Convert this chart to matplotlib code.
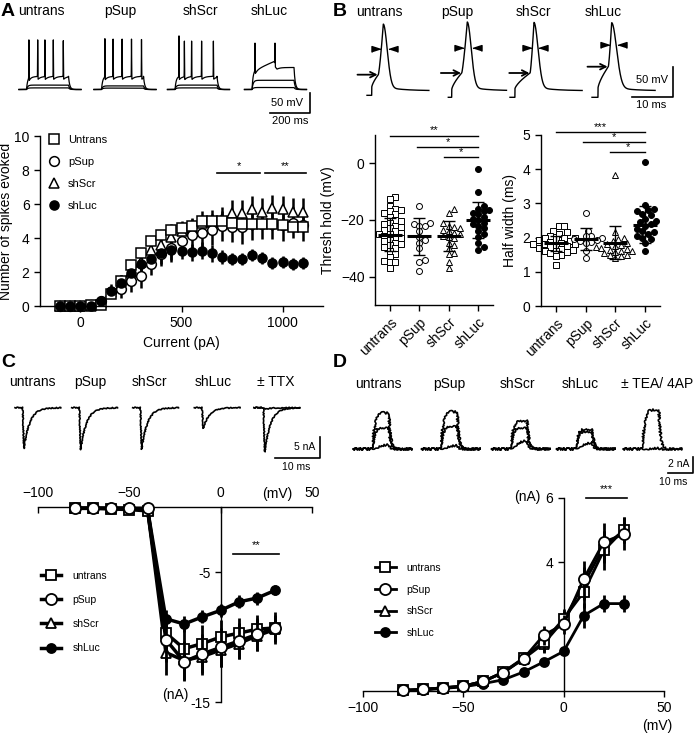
import numpy as np
import matplotlib.pyplot as plt
from matplotlib.transforms import offset_copy

plt.rcParams['font.family'] = ['Liberation Sans', 'DejaVu Sans']
plt.rcParams['font.size'] = 10
plt.rcParams['axes.linewidth'] = 1.0
plt.rcParams['xtick.major.width'] = 1.0
plt.rcParams['ytick.major.width'] = 1.0
plt.rcParams['xtick.major.size'] = 4
plt.rcParams['ytick.major.size'] = 4

# ─── Data ──────────────────────────────────────────────────────────────────────
groups = ["untrans", "pSup", "shScr", "shLuc"]
legend_a = ["Untrans", "pSup", "shScr", "shLuc"]

# A: spikes evoked vs current
current_pA = [-100, -50, 0, 50, 100, 150, 200, 250, 300, 350, 400, 450, 500,
              550, 600, 650, 700, 750, 800, 850, 900, 950, 1000, 1050, 1100]
spk_untrans = [0, 0, 0, 0.05, 0.06, 0.7, 1.5, 2.4, 3.1, 3.8, 4.2, 4.5, 4.6,
               4.7, 5.0, 5.0, 5.0, 4.9, 4.85, 4.8, 4.85, 4.8, 4.75, 4.65, 4.65]
spk_psup = [0, 0, 0, 0.05, 0.3, 0.8, 1.0, 1.45, 1.75, 2.5, 3.05, 3.4, 3.85,
            4.2, 4.3, 4.5, 4.7, 4.65, 4.65, 4.8, 4.85, 4.85, 4.75, 4.9, 4.75]
spk_shscr = [0, 0, 0, 0, 0.15, 0.8, 1.3, 2.0, 2.6, 3.3, 3.6, 4.05, 4.4,
             4.6, 4.9, 4.95, 5.1, 5.45, 5.45, 5.7, 5.55, 5.75, 5.7, 5.55, 5.55]
spk_shluc = [0, 0, 0, 0, 0.3, 0.9, 1.35, 1.95, 2.5, 2.75, 3.1, 3.3, 3.25,
             3.15, 3.25, 3.1, 2.9, 2.75, 2.75, 3.0, 2.8, 2.55, 2.6, 2.45, 2.55]
err_untrans = [0, 0, 0, 0.05, 0.1, 0.2, 0.3, 0.3, 0.3, 0.3, 0.3, 0.3, 0.3,
               0.3, 0.3, 0.3, 0.3, 0.3, 0.3, 0.3, 0.3, 0.3, 0.3, 0.3, 0.3]
err_psup = [0, 0, 0, 0.05, 0.2, 0.3, 0.5, 0.6, 0.7, 0.7, 0.7, 0.8, 0.8,
            0.9, 0.9, 0.9, 0.9, 0.9, 1.0, 0.9, 0.9, 0.9, 0.9, 0.9, 0.9]
err_shscr = [0, 0, 0, 0.05, 0.15, 0.3, 0.4, 0.5, 0.5, 0.6, 0.6, 0.6, 0.6,
             0.6, 0.7, 0.7, 0.7, 0.8, 0.8, 0.8, 0.8, 0.8, 0.8, 0.8, 0.8]
err_shluc = [0, 0, 0, 0.05, 0.3, 0.4, 0.5, 0.5, 0.6, 0.6, 0.6, 0.6, 0.5,
             0.5, 0.5, 0.5, 0.4, 0.35, 0.35, 0.35, 0.35, 0.35, 0.35, 0.35, 0.35]
sig_a_spans = [(675, 890), (915, 1115)]
sig_a_labels = ["*", "**"]
sig_a_level = 7.8

# B: threshold (mV) and half width (ms), individual cells
thr_untrans = [-12, -12.5, -15, -16, -16.5, -17, -17.5, -18, -19, -20, -20.5, -21,
               -21.5, -22, -22.5, -23, -23.5, -24, -24.5, -25, -25, -25.5, -26,
               -26.5, -27, -27.5, -28, -28.5, -29, -29.5, -30, -31, -32, -33,
               -34.5, -35, -35, -37]
thr_psup = [-15, -21, -21.5, -22, -22, -24, -26, -27, -28, -30, -34, -35, -38]
thr_shscr = [-16, -17.5, -21, -22, -22.5, -23, -23.5, -24, -24.5, -25, -25.5,
             -26, -26.5, -28, -29, -30, -31.5, -32, -35, -37]
thr_shluc = [-2, -10, -15, -16, -16.5, -17, -17.5, -18, -19, -19.5, -20, -21,
             -21.5, -22, -23, -24, -25, -26, -28, -29.5, -30.5]
thr_mean = [-25.2, -25.8, -25.6, -20.0]
thr_sd = [5.9, 6.6, 5.3, 6.5]
sig_thr = [(0, 3, 9.8, "**"), (0.93, 3, 5.9, "*"), (1.83, 3, 2.1, "*")]

hw_untrans = [2.33, 2.33, 2.2, 2.15, 2.1, 2.05, 2.0, 2.0, 1.98, 1.95, 1.92, 1.9,
              1.88, 1.85, 1.82, 1.8, 1.8, 1.78, 1.75, 1.72, 1.7, 1.68, 1.65,
              1.62, 1.6, 1.58, 1.55, 1.5, 1.45, 1.2]
hw_psup = [2.72, 2.2, 2.05, 2.05, 2.0, 1.95, 1.92, 1.9, 1.88, 1.85, 1.62, 1.4]
hw_shscr = [3.82, 2.15, 2.0, 1.95, 1.9, 1.85, 1.8, 1.78, 1.75, 1.72, 1.7, 1.68,
            1.65, 1.62, 1.6, 1.58, 1.55, 1.5, 1.48, 1.45, 1.4]
hw_shluc = [4.2, 2.95, 2.85, 2.8, 2.78, 2.7, 2.65, 2.55, 2.5, 2.45, 2.4, 2.35,
            2.25, 2.2, 2.15, 2.1, 2.05, 2.0, 1.95, 1.85, 1.6]
hw_mean = [1.83, 1.96, 1.85, 2.37]
hw_sd = [0.22, 0.32, 0.49, 0.54]
sig_hw = [(0, 3, 5.1, "***"), (0.91, 3, 4.8, "*"), (1.83, 3, 4.5, "*")]

# C: Na current IV (nA)
volt_mV = [-80, -70, -60, -50, -40, -30, -20, -10, 0, 10, 20, 30]
na_untrans = [-0.1, -0.1, -0.15, -0.2, -0.3, -9.7, -10.9, -10.5, -10.0, -9.7, -9.4, -9.3]
na_psup = [-0.1, -0.1, -0.1, -0.1, -0.1, -10.2, -11.9, -11.3, -10.8, -10.3, -9.8, -9.3]
na_shscr = [-0.1, -0.1, -0.1, -0.1, -0.2, -11.2, -11.8, -11.5, -11.0, -10.5, -9.9, -9.4]
na_shluc = [-0.1, -0.1, -0.1, -0.1, -0.2, -8.6, -9.0, -8.45, -7.95, -7.3, -7.0, -6.4]
na_err_untrans = [0, 0, 0, 0, 0.1, 1.5, 1.6, 1.4, 1.3, 1.2, 1.1, 1.0]
na_err_psup = [0, 0, 0, 0, 0.1, 1.7, 1.5, 1.5, 1.5, 1.4, 1.3, 1.2]
na_err_shscr = [0, 0, 0, 0, 0.1, 1.7, 1.5, 1.4, 1.3, 1.2, 1.2, 1.0]
na_err_shluc = [0, 0, 0, 0, 0.1, 0.7, 0.6, 0.5, 0.5, 0.5, 0.5, 0.4]
sig_c = (7, 32, -3.6, "**")

# D: K current IV (nA)
k_untrans = [0.02, 0.05, 0.1, 0.15, 0.3, 0.59, 1.02, 1.52, 2.24, 3.07, 4.36, 5.0]
k_psup = [0.02, 0.05, 0.1, 0.15, 0.3, 0.57, 1.0, 1.73, 2.07, 3.48, 4.62, 4.86]
k_shscr = [0.02, 0.05, 0.1, 0.15, 0.3, 0.58, 1.0, 1.47, 2.19, 3.33, 4.47, 4.98]
k_shluc = [0.02, 0.03, 0.08, 0.13, 0.23, 0.35, 0.59, 0.9, 1.23, 2.34, 2.71, 2.71]
k_err_untrans = [0, 0, 0, 0, 0.05, 0.1, 0.2, 0.3, 0.3, 0.5, 0.6, 0.4]
k_err_psup = [0, 0, 0, 0, 0.05, 0.1, 0.15, 0.3, 0.3, 0.55, 0.6, 0.5]
k_err_shscr = [0, 0, 0, 0, 0.05, 0.1, 0.15, 0.3, 0.3, 0.5, 0.5, 0.4]
k_err_shluc = [0, 0, 0, 0, 0.03, 0.05, 0.1, 0.1, 0.1, 0.4, 0.26, 0.26]
sig_d = (11, 31.5, 6.0, "***")

# example trace parameters
a_spike_ms = [[12, 56, 92, 134, 184], [17, 58, 103, 150, 200],
              [20, 47, 83, 133, 192], [15, 115]]
a_spike_peak = [[54, 54, 54, 54, 52], [57, 56, 56, 56, 55],
                [64, 51, 51, 51, 51], [46, 46]]
a_sub_mV = [[11, 4], [9, 3.5], [11, 4], [23, 5]]
b_thr = [-38.3, -35.5, -35.5, -25]
b_peak = [46, 49.5, 48.8, 48.3]
b_pre = [-72.7, -76, -76, -76]
b_stim = [-59.4, -63.3, -62, -61]
c_amp = [9.7, 10.0, 9.9, 4.9]
c_amp_ttx = [10.5, 0.4]
d_amp = [[4.75, 2.8, 0.6], [4.9, 3.0, 0.5], [3.7, 2.8, 1.2], [2.6, 2.3, 0.9]]
d_amp_tea = [5.1, 0.1]

# ─── Helpers ───────────────────────────────────────────────────────────────────
W, H = 700, 735
fig = plt.figure(figsize=(W / 100, H / 100), dpi=100)


def px_axes(x0, y0, x1, y1):
    return fig.add_axes([x0 / W, 1 - y1 / H, (x1 - x0) / W, (y1 - y0) / H])


def px_text(x, y, s, **kw):
    kw.setdefault('ha', 'center')
    kw.setdefault('va', 'center')
    fig.text(x / W, 1 - y / H, s, **kw)


def px_to_data(ax, x, y):
    return ax.transData.inverted().transform((x, H - y))


def trace_axes(x0, y0, x1, y1, ux, uy, y_ref, v_ref):
    ax = px_axes(x0, y0, x1, y1)
    ax.set_xlim(0, (x1 - x0) * ux)
    ax.set_ylim(v_ref - (y1 - y_ref) * uy, v_ref + (y_ref - y0) * uy)
    ax.axis('off')
    return ax


def scale_bar(ax, x_px, y_px, dx, dy):
    x, y = px_to_data(ax, x_px, y_px)
    ax.plot([x - dx, x, x], [y, y, y + dy], color='k', lw=1.2, clip_on=False)


def noisy(line, scale):
    line.set_sketch_params(scale, 1.5, 2)


def firing_sweep(t, t_on, dur, plat_t, plat_v, spikes, peaks, v_rest=-70, tau=6.0):
    x = t - t_on
    level = np.interp(np.clip(x, 0, dur), plat_t, plat_v)
    g = np.where(x < 0, 0, 1 - np.exp(-np.clip(x, 0, None) / tau))
    g_off = 1 - np.exp(-dur / tau)
    g = np.where(x > dur, g_off * np.exp(-(x - dur) / tau), g)
    v = v_rest + level * g
    for ts in spikes:
        v = v - 8 * np.exp(-(x - ts) / 15) * ((x > ts) & (x < dur))
    base = v.copy()
    for ts, vp in zip(spikes, peaks):
        v = v + (vp - np.interp(t_on + ts, t, base)) * np.exp(-((x - ts) / 0.8) ** 2)
    return v


def ap_wave(t, t_stim, t_thr, t_peak, v_pre, v_stim, v_thr, v_peak, w, v_rest=-65):
    v = np.full_like(t, v_pre)
    m = (t >= t_stim) & (t < t_thr)
    v[m] = v_stim + (v_thr - v_stim) * ((t[m] - t_stim) / (t_thr - t_stim)) ** 0.7
    m = (t >= t_thr) & (t < t_peak)
    v[m] = v_thr + (v_peak - v_thr) * ((t[m] - t_thr) / (t_peak - t_thr)) ** 1.3
    m = t >= t_peak
    v[m] = (v_rest + (v_peak - v_rest - 7) * np.exp(-((t[m] - t_peak) / w) ** 2)
            + 7 * np.exp(-(t[m] - t_peak) / 4))
    return v


def na_current(t, t_on, amp, tau=1.3, t_rise=0.3):
    i = np.zeros_like(t)
    m = (t >= t_on) & (t < t_on + t_rise)
    i[m] = -amp * (t[m] - t_on) / t_rise
    m = t >= t_on + t_rise
    i[m] = -amp * np.exp(-(t[m] - t_on - t_rise) / tau)
    return i


def k_current(t, t_on, dur, amp, tau_a):
    x = t - t_on
    a = np.where(x > 0, (1 - np.exp(-np.clip(x, 0, None) / tau_a)) ** 2, 0)
    a_off = (1 - np.exp(-dur / tau_a)) ** 2
    a = np.where(x > dur, a_off * np.exp(-(x - dur) / 0.7), a)
    droop = np.where(x > 0, 1 - 0.06 * np.clip(x, 0, dur) / dur, 1)
    return amp * a * droop


def swarm_x(ax, xc, vals, diam):
    disp = ax.transData.transform(np.column_stack([np.full(len(vals), xc), vals]))
    x0, ys = disp[0, 0], disp[:, 1]
    cands = [0]
    for k in range(1, 20):
        cands += [k * diam * 0.5, -k * diam * 0.5]
    placed, xs = [], np.zeros(len(vals))
    for i in np.argsort(vals):
        for c in cands:
            if all((c - px) ** 2 + (ys[i] - py) ** 2 >= (diam * 0.95) ** 2 for px, py in placed):
                break
        placed.append((c, ys[i]))
        xs[i] = x0 + c
    return ax.transData.inverted().transform(np.column_stack([xs, ys]))[:, 0]


# ─── Panel letters & titles ────────────────────────────────────────────────────
for lab, x, y in [("A", 8, 11), ("B", 340, 11), ("C", 8, 362), ("D", 340, 362)]:
    px_text(x, y, lab, fontsize=14, weight='bold')
for name, x in zip(groups, [41, 120, 200, 269]):
    px_text(x, 11, name)
for name, x in zip(groups, [379, 457, 533, 603]):
    px_text(x, 12, name)
for name, x in zip(groups + ["± TTX"], [32, 90, 149, 213, 276]):
    px_text(x, 382, name)
for name, x in zip(groups + ["± TEA/ 4AP"], [378, 449, 517, 580, 657]):
    px_text(x, 384, name)

# ─── A traces ──────────────────────────────────────────────────────────────────
axAt = trace_axes(15, 28, 330, 125, 5.0, 2.5, 89.5, -70)
t_ms = np.arange(0, 310, 0.1)
for onset_px, spk, pk, subs in zip([26.5, 101.5, 175, 252], a_spike_ms, a_spike_peak, a_sub_mV):
    t_on = px_to_data(axAt, onset_px, 0)[0]
    tt = t_ms + t_on - 37.5
    if len(spk) > 2:
        knots_t, knots_v = [0], [33]
    else:
        knots_t, knots_v = [0, 20, 110, 125, 210], [52, 50, 70, 55, 55]
    axAt.plot(tt, firing_sweep(tt, t_on, 210, knots_t, knots_v, spk, pk), color='k', lw=0.9)
    for dv in subs:
        axAt.plot(tt, firing_sweep(tt, t_on, 210, [0], [dv], [], []), color='k', lw=0.9)
scale_bar(axAt, 310, 113, 200, 50)
px_text(303, 103, "50 mV", ha='right', fontsize=8)
px_text(290, 121, "200 ms", fontsize=8)

# ─── A: spikes vs current ──────────────────────────────────────────────────────
axA = px_axes(40, 136, 323, 306)
series_a = [(spk_shscr, err_shscr, '^', 'white', 7), (spk_psup, err_psup, 'o', 'white', 7),
            (spk_untrans, err_untrans, 's', 'white', 6.5), (spk_shluc, err_shluc, 'o', 'black', 6.5)]
handles = {}
for (vals, err, mk, fc, ms), lab in zip(series_a, [legend_a[2], legend_a[1], legend_a[0], legend_a[3]]):
    c = axA.errorbar(current_pA, vals, yerr=err, fmt=mk, ms=ms, mfc=fc, mec='k', mew=1.1,
                     ecolor='k', elinewidth=1.8, capsize=0, clip_on=False)
    handles[lab] = c[0]
axA.set_xlim(-200, 1200)
axA.set_ylim(0, 10)
axA.set_xticks([0, 500, 1000])
axA.set_yticks([0, 2, 4, 6, 8, 10])
axA.spines[['right', 'top']].set_visible(False)
axA.set_xlabel("Current (pA)")
axA.set_ylabel("Number of spikes evoked", labelpad=1)
for (x0, x1), lab in zip(sig_a_spans, sig_a_labels):
    axA.plot([x0, x1], [sig_a_level] * 2, color='k', lw=1.2, clip_on=False)
    axA.text((x0 + x1) / 2, sig_a_level + 0.15, lab, ha='center', va='bottom', fontsize=8)
axA.legend([handles[l] for l in legend_a], legend_a, loc='upper left', frameon=False,
           bbox_to_anchor=(48 / W, 1 - 135 / H), bbox_transform=fig.transFigure,
           borderpad=0, borderaxespad=0, handlelength=1.0, handletextpad=0.8,
           labelspacing=1.08, fontsize=8)

# ─── B traces ──────────────────────────────────────────────────────────────────
axBt = trace_axes(350, 15, 700, 112, 10 / 41, 50 / 30, 90.7, -65)
b_start_px = [367, 448.3, 510, 592]
b_len = [15.1, 14.2, 17.6, 15.4]
b_times = [(1.15, 2.76, 3.98, 1.35), (0.83, 3.27, 4.63, 1.35),
           (1.2, 4.9, 5.85, 1.4), (1.46, 3.98, 4.8, 1.7)]
tri_r = [(-1, -0.65), (-1, 0.65), (1, 0)]
tri_l = [(1, -0.65), (1, 0.65), (-1, 0)]
for i in range(4):
    t0 = px_to_data(axBt, b_start_px[i], 0)[0]
    ts, tth, tp, w = b_times[i]
    t = np.arange(0, b_len[i], 0.01)
    v = ap_wave(t, ts, tth, tp, b_pre[i], b_stim[i], b_thr[i], b_peak[i], w)
    axBt.plot(t + t0, v, color='k', lw=1.0)
    ip = np.argmax(v)
    vh = (b_thr[i] + b_peak[i]) / 2
    t1 = np.interp(vh, v[:ip + 1], t[:ip + 1])
    t2 = np.interp(vh, v[ip:][::-1], t[ip:][::-1])
    axBt.plot(t1 + t0, vh, marker=tri_r, ms=6.5, color='k', ls='none',
              transform=offset_copy(axBt.transData, fig=fig, x=-5.5, y=0, units='dots'))
    axBt.plot(t2 + t0, vh, marker=tri_l, ms=6.5, color='k', ls='none',
              transform=offset_copy(axBt.transData, fig=fig, x=5.5, y=0, units='dots'))
    axBt.annotate("", xy=(tth + t0, b_thr[i]), xytext=(-15, 0), textcoords='offset points',
                  arrowprops=dict(arrowstyle='->', lw=1.3, color='k', shrinkA=0, shrinkB=0.5))
scale_bar(axBt, 673, 97, 10, 50)
px_text(668, 80, "50 mV", ha='right', fontsize=8)
px_text(651, 105, "10 ms", fontsize=8)


# ─── B: scatter plots ──────────────────────────────────────────────────────────
def dot_plot(ax, data, means, sds, sigs, ylabel):
    styles = [('s', 'white'), ('o', 'white'), ('^', 'white'), ('o', 'black')]
    for i, (vals, (mk, fc)) in enumerate(zip(data, styles)):
        xs = swarm_x(ax, i, vals, 5.6)
        ax.plot(xs, vals, ls='none', marker=mk, ms=4.3, mfc=fc, mec='k', mew=0.7, clip_on=False)
        ax.hlines(means[i], i - 0.4, i + 0.4, color='k', lw=2.2, zorder=4)
        ax.errorbar(i, means[i], yerr=sds[i], fmt='none', ecolor='k', elinewidth=1.0,
                    capsize=4, capthick=1.0, zorder=4)
    for x0, x1, y, lab in sigs:
        ax.plot([x0, x1], [y, y], color='k', lw=1.0, clip_on=False)
        ax.text((x0 + x1) / 2, y, lab, ha='center', va='bottom', fontsize=8)
    ax.set_xticks(range(4))
    ax.set_xticklabels(groups, rotation=45, ha='right', rotation_mode='anchor')
    ax.spines[['right', 'top']].set_visible(False)
    ax.set_ylabel(ylabel)


axB1 = px_axes(375, 135, 493, 305)
axB1.set_xlim(-0.5, 3.5)
axB1.set_ylim(-50, 10)
axB1.set_yticks([-40, -20, 0])
dot_plot(axB1, [thr_untrans, thr_psup, thr_shscr, thr_shluc], thr_mean, thr_sd, sig_thr,
         "Thresh hold (mV)")

axB2 = px_axes(541, 135, 660, 306)
axB2.set_xlim(-0.5, 3.5)
axB2.set_ylim(0, 5)
axB2.set_yticks([0, 1, 2, 3, 4, 5])
dot_plot(axB2, [hw_untrans, hw_psup, hw_shscr, hw_shluc], hw_mean, hw_sd, sig_hw,
         "Half width (ms)")

# ─── C traces ──────────────────────────────────────────────────────────────────
axCt = trace_axes(5, 395, 330, 472, 10 / 45, 5 / 21, 407.7, 0)
t = np.arange(0, 10.2, 0.02)
for x_px, amp in zip([15, 71.7, 132.7, 194.3], c_amp):
    t0 = px_to_data(axCt, x_px, 0)[0]
    ln, = axCt.plot(t + t0, na_current(t, 1.7, amp), color='k', lw=1.2)
    noisy(ln, 0.5)
t0 = px_to_data(axCt, 254, 0)[0]
for amp in c_amp_ttx:
    ln, = axCt.plot(t + t0, na_current(t, 2.1, amp), color='k', lw=1.2)
    noisy(ln, 0.5)
scale_bar(axCt, 320, 458, 10, 5)
px_text(315, 447, "5 nA", ha='right', fontsize=7.5)
px_text(296, 467, "10 ms", fontsize=7.5)

# ─── C: Na IV ──────────────────────────────────────────────────────────────────
axC = px_axes(38, 507, 312, 702)
series_c = [(na_shluc, na_err_shluc, 'o', 'black', 6.5, groups[3]),
            (na_shscr, na_err_shscr, '^', 'white', 7, groups[2]),
            (na_untrans, na_err_untrans, 's', 'white', 7, groups[0]),
            (na_psup, na_err_psup, 'o', 'white', 8, groups[1])]
hc = {}
for z, (vals, err, mk, fc, ms, lab) in enumerate(series_c):
    c = axC.errorbar(volt_mV, vals, yerr=err, fmt='-' + mk, ms=ms, mfc=fc, mec='k', mew=1.3,
                     color='k', lw=2.5, ecolor='k', elinewidth=2.0, capsize=0,
                     clip_on=False, zorder=3 + z)
    hc[lab] = c[0]
axC.set_xlim(-100, 50)
axC.set_ylim(-15, 0)
axC.spines[['right', 'bottom']].set_visible(False)
axC.spines['left'].set_position(('data', 0))
axC.xaxis.tick_top()
axC.set_xticks([-100, -50, 0, 50])
axC.tick_params(axis='x', direction='in', pad=5)
axC.set_yticks([-15, -10, -5])
axC.set_yticklabels(['-15', '', '-5'])
axC.plot([sig_c[0], sig_c[1]], [sig_c[2]] * 2, color='k', lw=1.2)
axC.text((sig_c[0] + sig_c[1]) / 2, sig_c[2] + 0.25, sig_c[3], ha='center', va='bottom', fontsize=8)
px_text(277, 494, "(mV)")
px_text(175, 695, "(nA)")
axC.legend([hc[g] for g in groups], groups, loc='upper left', frameon=False,
           bbox_to_anchor=(41 / W, 1 - 571 / H), bbox_transform=fig.transFigure,
           borderpad=0, borderaxespad=0, handlelength=1.9, handletextpad=1.1,
           labelspacing=1.35, fontsize=7.5)

# ─── D traces ──────────────────────────────────────────────────────────────────
axDt = trace_axes(350, 395, 700, 485, 10 / 25, 2 / 16, 449, 0)
t = np.arange(0, 23.4, 0.02)
for x_px, amps in zip([353.3, 421.7, 491.7, 556.7], d_amp):
    t0 = px_to_data(axDt, x_px, 0)[0]
    for amp, tau_a in zip(amps, [0.8, 0.8, 2.2]):
        ln, = axDt.plot(t + t0, k_current(t, 7.3, 6.9, amp, tau_a), color='k', lw=1.2)
        noisy(ln, 1.1)
t0 = px_to_data(axDt, 623.3, 0)[0]
for amp, tau_a in zip(d_amp_tea, [0.8, 2.2]):
    ln, = axDt.plot(t + t0, k_current(t, 7.3, 6.9, amp, tau_a), color='k', lw=1.2)
    noisy(ln, 1.1)
scale_bar(axDt, 693, 473, 10, 2)
px_text(689, 464, "2 nA", ha='right', fontsize=7.5)
px_text(673, 482, "10 ms", fontsize=7.5)

# ─── D: K IV ───────────────────────────────────────────────────────────────────
axD = px_axes(363, 497.5, 664, 691)
series_d = [(k_shluc, k_err_shluc, 'o', 'black', 6.5, groups[3]),
            (k_shscr, k_err_shscr, '^', 'white', 7, groups[2]),
            (k_untrans, k_err_untrans, 's', 'white', 7, groups[0]),
            (k_psup, k_err_psup, 'o', 'white', 8, groups[1])]
hd = {}
for z, (vals, err, mk, fc, ms, lab) in enumerate(series_d):
    c = axD.errorbar(volt_mV, vals, yerr=err, fmt='-' + mk, ms=ms, mfc=fc, mec='k', mew=1.3,
                     color='k', lw=2.0, ecolor='k', elinewidth=2.0, capsize=0,
                     clip_on=False, zorder=3 + z)
    hd[lab] = c[0]
axD.set_xlim(-100, 50)
axD.set_ylim(0, 6)
axD.spines[['right', 'top']].set_visible(False)
axD.spines['left'].set_position(('data', 0))
axD.set_xticks([-100, -50, 0, 50])
axD.set_yticks([4, 6])
axD.plot([sig_d[0], sig_d[1]], [sig_d[2]] * 2, color='k', lw=1.2, clip_on=False)
axD.text((sig_d[0] + sig_d[1]) / 2, sig_d[2] + 0.1, sig_d[3], ha='center', va='bottom', fontsize=8)
px_text(657, 726, "(mV)")
px_text(527, 497, "(nA)")
axD.legend([hd[g] for g in groups], groups, loc='upper left', frameon=False,
           bbox_to_anchor=(375 / W, 1 - 563 / H), bbox_transform=fig.transFigure,
           borderpad=0, borderaxespad=0, handlelength=2.0, handletextpad=1.0,
           labelspacing=1.12, fontsize=7.5)

plt.savefig("out.png", dpi=100)
